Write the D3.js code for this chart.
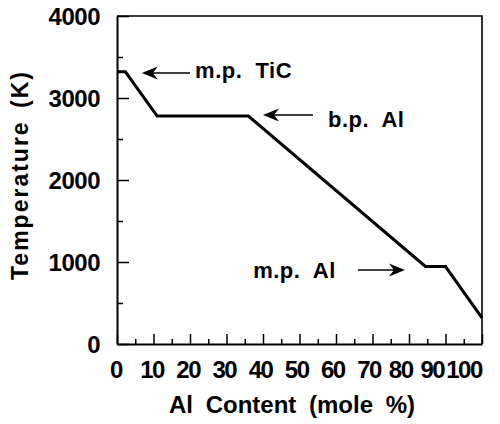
<!DOCTYPE html>
<html><head><meta charset="utf-8">
<script src="https://cdn.jsdelivr.net/npm/d3@7/dist/d3.min.js"></script>
<style>
html,body{margin:0;padding:0;background:#fff;}
svg text{font-family:"Liberation Sans",Arial,Helvetica,sans-serif;font-weight:bold;fill:#000;}
</style></head>
<body>
<svg id="chart" width="500" height="424"></svg>
<script>
// ---- data ----
const alContent = [0, 2.3, 11, 36, 84.5, 90, 100];
const temperature = [3320, 3320, 2780, 2780, 945, 945, 320];
const xTickValues = [0,10,20,30,40,50,60,70,80,90,100];
const yTickValues = [0,1000,2000,3000,4000];
const yMinorValues = [500,1500,2500,3500];
const xMinorValues = [5,15,25,35,45,55,65,75,85,95];
const annoLabels = ["m.p.  TiC", "b.p.  Al", "m.p.  Al"];
const annoTipX = [6.8, 40, 78.9];
const annoTipY = [3305, 2793, 902];
const annoTailX = [20, 53.7, 66];
const annoTextX = [21.4, 57.8, 37.3];
const annoTextY = [3244, 2646, 805];
const xTitle = "Al Content (mole %)";
const yTitle = "Temperature (K)";

// ---- layout ----
const svg = d3.select("#chart");
const x = d3.scaleLinear().domain([0,100]).range([117,482]);
const y = d3.scaleLinear().domain([0,4000]).range([344,16]);
// tick labels in the original drift slightly left of the ticks
const xLabel = d3.scaleLinear().domain([0,10,70,100]).range([116,152,369,464]);

// frame (top & right)
svg.append("path")
  .attr("d", `M${x(0)},${y(4000)}H${x(100)}V${y(0)}`)
  .attr("fill","none").attr("stroke","#000").attr("stroke-width",1.6);

// axes with inward ticks
const gx = svg.append("g").attr("transform",`translate(0,${y(0)})`)
  .call(d3.axisBottom(x).tickValues(xTickValues).tickSize(-10).tickSizeOuter(0).tickFormat(""));
const gxm = svg.append("g").attr("transform",`translate(0,${y(0)})`)
  .call(d3.axisBottom(x).tickValues(xMinorValues).tickSize(-5).tickSizeOuter(0).tickFormat(""));
const gy = svg.append("g").attr("transform",`translate(${x(0)},0)`)
  .call(d3.axisLeft(y).tickValues(yTickValues).tickSize(-12).tickSizeOuter(0).tickFormat(""));
const gym = svg.append("g").attr("transform",`translate(${x(0)},0)`)
  .call(d3.axisLeft(y).tickValues(yMinorValues).tickSize(-6).tickSizeOuter(0).tickFormat(""));
[gx,gxm,gy,gym].forEach(g=>{
  g.selectAll("path.domain").attr("stroke","#000").attr("stroke-width",2);
  g.selectAll(".tick line").attr("stroke","#000").attr("stroke-width",1.5);
});
gxm.select("path.domain").remove(); gym.select("path.domain").remove();

// tick labels
svg.append("g").selectAll("text").data(xTickValues).join("text")
  .attr("x", d=>xLabel(d)).attr("y", 378)
  .attr("text-anchor","middle").attr("font-size","24px")
  .attr("letter-spacing","-1.5px")
  .text(d=>d);
svg.append("g").selectAll("text").data(yTickValues).join("text")
  .attr("x", 100).attr("y", d=>y(d)).attr("dy","0.36em")
  .attr("text-anchor","end").attr("font-size","24px")
  .attr("letter-spacing","-0.5px")
  .text(d=>d);

// axis titles
svg.append("text").attr("x",292).attr("y",413)
  .attr("text-anchor","middle").attr("font-size","24px").attr("word-spacing","6px")
  .text(xTitle);
svg.append("text").attr("transform","translate(28,175) rotate(-90)")
  .attr("text-anchor","middle").attr("font-size","23px")
  .attr("letter-spacing","2px").attr("word-spacing","4px")
  .text(yTitle);

// data line
const pts = alContent.map((v,i)=>[v, temperature[i]]);
svg.append("path").datum(pts)
  .attr("d", d3.line().x(d=>x(d[0])).y(d=>y(d[1])))
  .attr("fill","none").attr("stroke","#000").attr("stroke-width",3)
  .attr("stroke-linejoin","miter");

// annotations
annoLabels.forEach((lab,i)=>{
  const tx = x(annoTipX[i]), ty = y(annoTipY[i]), tl = x(annoTailX[i]);
  const dir = Math.sign(tl - tx); // +1 means arrow points left
  svg.append("line").attr("x1",tl).attr("y1",ty).attr("x2",tx + dir*10).attr("y2",ty)
    .attr("stroke","#000").attr("stroke-width",1.6);
  const L = 16, W = 6.5, notch = 11;
  svg.append("path")
    .attr("d", `M${tx},${ty}L${tx+dir*L},${ty-W}L${tx+dir*notch},${ty}L${tx+dir*L},${ty+W}Z`)
    .attr("fill","#000");
  svg.append("text").attr("x", x(annoTextX[i])).attr("y", y(annoTextY[i]))
    .attr("font-size","22px").attr("letter-spacing","0.5px")
    .attr("xml:space","preserve").style("white-space","pre")
    .text(lab);
});
</script>
</body></html>
